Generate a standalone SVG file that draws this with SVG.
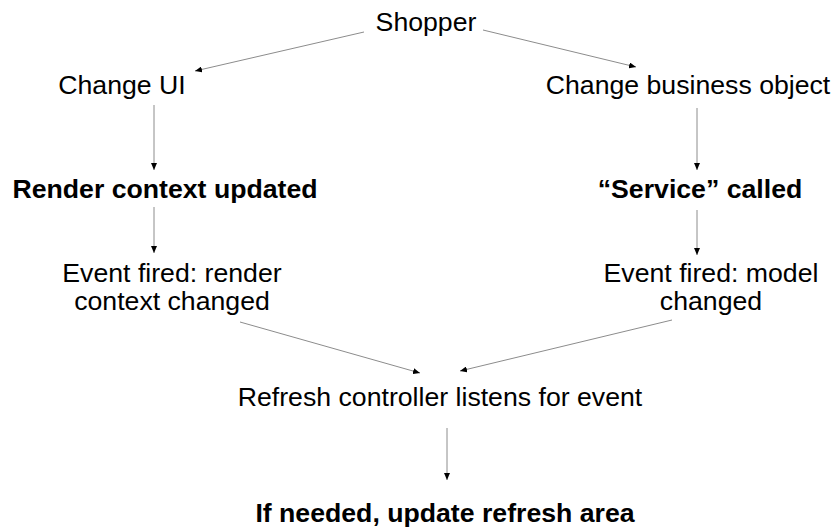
<svg xmlns="http://www.w3.org/2000/svg" width="835" height="531" viewBox="0 0 835 531">
  <style>
    .lbl { font-family: "Liberation Sans", Arial, sans-serif; font-size: 26.67px; fill: #000; text-anchor: middle; }
    .bold { font-weight: bold; }
    .edge { stroke: #8c8c8c; stroke-width: 1; fill: none; marker-end: url(#tip); }
  </style>
  <defs>
    <marker id="tip" markerUnits="userSpaceOnUse" markerWidth="7" markerHeight="6" refX="7" refY="3" orient="auto">
      <path d="M0,0 L7,3 L0,6 z" fill="#000"/>
    </marker>
  </defs>
  <rect width="835" height="531" fill="#fff"/>

  <g id="connectors">
    <line class="edge" x1="364" y1="32" x2="195" y2="71"/>
    <line class="edge" x1="483" y1="30" x2="636" y2="67"/>
    <line class="edge" x1="154" y1="105" x2="154" y2="170"/>
    <line class="edge" x1="154" y1="207" x2="154" y2="253"/>
    <line class="edge" x1="697" y1="108" x2="697" y2="170"/>
    <line class="edge" x1="697" y1="210" x2="697" y2="255"/>
    <line class="edge" x1="240" y1="322" x2="420" y2="373"/>
    <line class="edge" x1="672" y1="320" x2="460" y2="371"/>
    <line class="edge" x1="447" y1="428" x2="447" y2="480"/>
  </g>

  <g id="shopper">
    <text class="lbl" x="426" y="31">Shopper</text>
  </g>
  <g id="change-ui">
    <text class="lbl" x="122" y="94">Change UI</text>
  </g>
  <g id="change-business-object">
    <text class="lbl" x="688" y="94">Change business object</text>
  </g>
  <g id="render-context-updated">
    <text class="lbl bold" x="165" y="198">Render context updated</text>
  </g>
  <g id="service-called">
    <text class="lbl bold" x="700" y="198">“Service” called</text>
  </g>
  <g id="event-render-context">
    <text class="lbl" x="172" y="282">Event fired: render</text>
    <text class="lbl" x="172" y="310">context changed</text>
  </g>
  <g id="event-model-changed">
    <text class="lbl" x="711" y="282">Event fired: model</text>
    <text class="lbl" x="711" y="310">changed</text>
  </g>
  <g id="refresh-controller">
    <text class="lbl" x="440" y="406">Refresh controller listens for event</text>
  </g>
  <g id="update-refresh-area">
    <text class="lbl bold" x="445" y="522">If needed, update refresh area</text>
  </g>
</svg>
